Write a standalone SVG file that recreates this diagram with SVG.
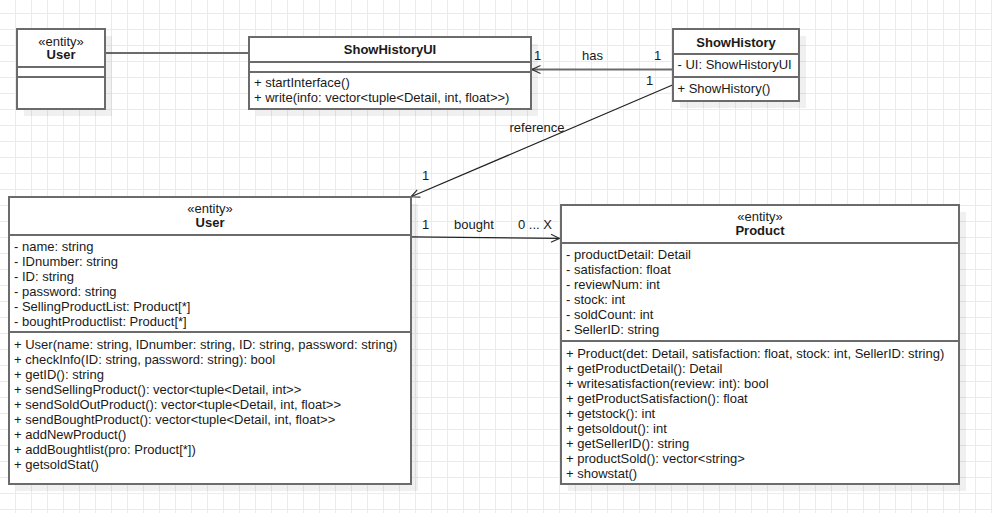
<svg xmlns="http://www.w3.org/2000/svg" width="992" height="513" viewBox="0 0 992 513">
<style>
text{font-family:"Liberation Sans",Arial,sans-serif;font-size:13px;fill:#1a1a1a}
.b{font-weight:bold}
.m{text-anchor:middle}
.box{fill:#fff;stroke:#6b6b6b;stroke-width:2}
.sh{fill:#000;fill-opacity:0.06}
.dv{stroke:#6b6b6b;stroke-width:2}
.c{fill:none;stroke:#6b6b6b;stroke-width:2}
.c2{fill:none;stroke:#222;stroke-width:1.2}
</style>
<defs>
<pattern id="grid" patternUnits="userSpaceOnUse" x="15" y="13" width="16" height="16">
<path d="M0.5 0V16M0 0.5H16" stroke="#ebebeb" stroke-width="1" fill="none"/>
</pattern>
<marker id="open" markerUnits="userSpaceOnUse" markerWidth="14" markerHeight="12" viewBox="-10 -6 12 12" refX="0" refY="0" orient="auto">
<path d="M-8.5 -4 L0 0 L-8.5 4" fill="none" stroke="#333" stroke-width="1.2"/>
</marker>
</defs>
<rect width="992" height="513" fill="#fff"/>
<rect width="992" height="513" fill="url(#grid)"/>

<g id="connectors">
<line class="c" x1="105" y1="53" x2="249" y2="53"/>
<line class="c" x1="672" y1="69.5" x2="532" y2="69.5" marker-end="url(#open)"/>
<line class="c2" x1="672.5" y1="85" x2="411" y2="196.8" marker-end="url(#open)"/>
<line class="c2" x1="411" y1="236.8" x2="559.5" y2="238.4" marker-end="url(#open)"/>
<text class="m" x="537.5" y="59.5">1</text>
<text class="m" x="592.5" y="59.5">has</text>
<text class="m" x="657.5" y="59.5">1</text>
<text class="m" x="649.5" y="84.5">1</text>
<text class="m" x="537" y="132">reference</text>
<text class="m" x="425.5" y="180">1</text>
<text class="m" x="425.5" y="228.5">1</text>
<text class="m" x="474" y="228.5">bought</text>
<text class="m" x="535" y="228.5">0 ... X</text>
</g>

<g id="user-small">
<rect class="sh" x="24" y="36" width="88" height="80"/>
<rect class="box" x="17" y="29" width="88" height="80"/>
<line class="dv" x1="17" y1="67" x2="105" y2="67"/>
<line class="dv" x1="17" y1="77" x2="105" y2="77"/>
<text class="m" x="61" y="45.5">«entity»</text>
<text class="m b" x="61" y="59">User</text>
</g>

<g id="showhistoryui">
<rect class="sh" x="256" y="44" width="282" height="72"/>
<rect class="box" x="249" y="37" width="282" height="72"/>
<line class="dv" x1="249" y1="62" x2="531" y2="62"/>
<line class="dv" x1="249" y1="72" x2="531" y2="72"/>
<text class="m b" x="390" y="54">ShowHistoryUI</text>
<text x="254" y="87.3">+ startInterface()</text>
<text x="254" y="102.3">+ write(info: vector&lt;tuple&lt;Detail, int, float&gt;&gt;)</text>
</g>

<g id="showhistory">
<rect class="sh" x="680" y="36" width="126" height="72"/>
<rect class="box" x="673" y="29" width="126" height="72"/>
<line class="dv" x1="673" y1="54" x2="799" y2="54"/>
<line class="dv" x1="673" y1="77" x2="799" y2="77"/>
<text class="m b" x="736" y="46.5">ShowHistory</text>
<text x="677.5" y="69">- UI: ShowHistoryUI</text>
<text x="677.5" y="92.5">+ ShowHistory()</text>
</g>

<g id="user">
<rect class="sh" x="16" y="204" width="402" height="287"/>
<rect class="box" x="9" y="197" width="402" height="287"/>
<line class="dv" x1="9" y1="235" x2="411" y2="235"/>
<line class="dv" x1="9" y1="332" x2="411" y2="332"/>
<text class="m" x="210" y="213">«entity»</text>
<text class="m b" x="210" y="227">User</text>
<text x="14" y="250.5">- name: string</text>
<text x="14" y="265.5">- IDnumber: string</text>
<text x="14" y="280.5">- ID: string</text>
<text x="14" y="295.5">- password: string</text>
<text x="14" y="310.5">- SellingProductList: Product[*]</text>
<text x="14" y="325.5">- boughtProductlist: Product[*]</text>
<text x="14" y="348.5">+ User(name: string, IDnumber: string, ID: string, password: string)</text>
<text x="14" y="363.6">+ checkInfo(ID: string, password: string): bool</text>
<text x="14" y="378.7">+ getID(): string</text>
<text x="14" y="393.8">+ sendSellingProduct(): vector&lt;tuple&lt;Detail, int&gt;&gt;</text>
<text x="14" y="408.9">+ sendSoldOutProduct(): vector&lt;tuple&lt;Detail, int, float&gt;&gt;</text>
<text x="14" y="424">+ sendBoughtProduct(): vector&lt;tuple&lt;Detail, int, float&gt;&gt;</text>
<text x="14" y="439.1">+ addNewProduct()</text>
<text x="14" y="454.2">+ addBoughtlist(pro: Product[*])</text>
<text x="14" y="469.3">+ getsoldStat()</text>
</g>

<g id="product">
<rect class="sh" x="568" y="212" width="398" height="279"/>
<rect class="box" x="561" y="205" width="398" height="279"/>
<line class="dv" x1="561" y1="243" x2="959" y2="243"/>
<line class="dv" x1="561" y1="341" x2="959" y2="341"/>
<text class="m" x="760" y="221">«entity»</text>
<text class="m b" x="760" y="235">Product</text>
<text x="566" y="258.5">- productDetail: Detail</text>
<text x="566" y="273.5">- satisfaction: float</text>
<text x="566" y="288.5">- reviewNum: int</text>
<text x="566" y="303.5">- stock: int</text>
<text x="566" y="318.5">- soldCount: int</text>
<text x="566" y="333.5">- SellerID: string</text>
<text x="566" y="357.5">+ Product(det: Detail, satisfaction: float, stock: int, SellerID: string)</text>
<text x="566" y="372.5">+ getProductDetail(): Detail</text>
<text x="566" y="387.5">+ writesatisfaction(review: int): bool</text>
<text x="566" y="402.5">+ getProductSatisfaction(): float</text>
<text x="566" y="417.5">+ getstock(): int</text>
<text x="566" y="432.5">+ getsoldout(): int</text>
<text x="566" y="447.5">+ getSellerID(): string</text>
<text x="566" y="462.5">+ productSold(): vector&lt;string&gt;</text>
<text x="566" y="477.5">+ showstat()</text>
</g>
</svg>
